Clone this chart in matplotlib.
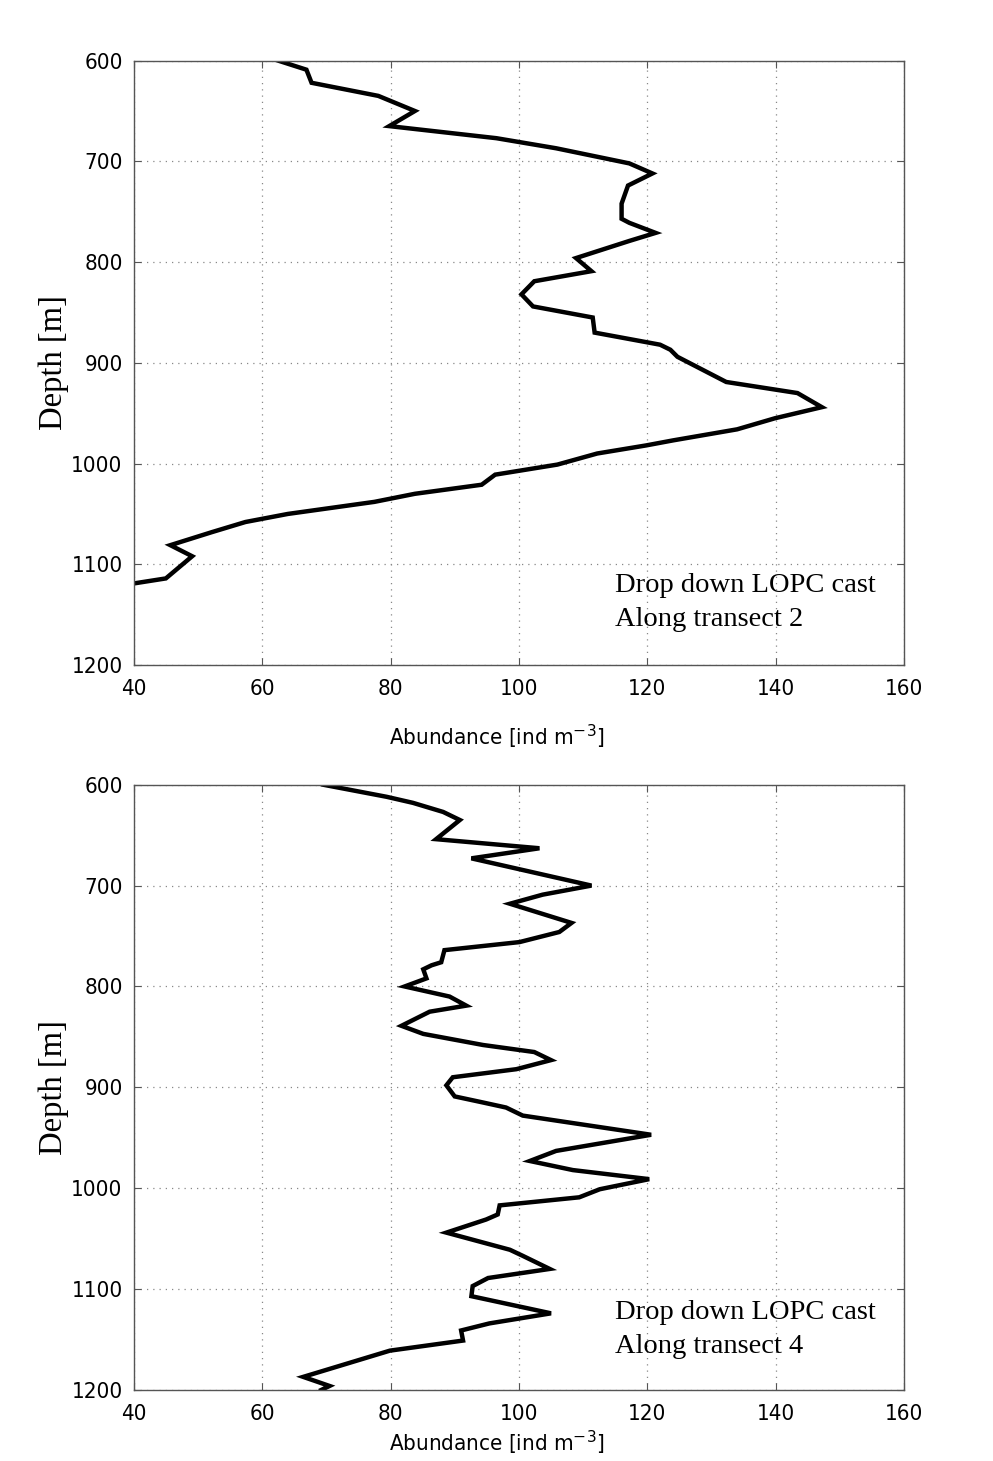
import numpy as np
import matplotlib
matplotlib.use("Agg")
import matplotlib.pyplot as plt
from matplotlib import font_manager

# transect 2 profile (abundance, depth)
abund_t2 = [62.5, 66.9, 67.7, 78.1, 83.8, 79.8, 96.5, 105.8, 117.2, 120.8, 117.0,
            116.0, 116.0, 117.2, 121.3, 117.2, 108.9, 111.3, 102.4, 100.4, 102.2,
            111.5, 111.8, 122.0, 123.6, 124.7, 132.3, 143.4, 147.2, 139.9, 134.0,
            124.0, 119.8, 112.2, 106.0, 96.3, 94.2, 83.8, 77.5, 64.0, 57.4, 52.2,
            45.7, 49.1, 45.0, 37.0]
depth_t2 = [600, 609, 622, 635, 650, 665, 677, 687, 702, 712, 724,
            742, 757, 761, 771, 779, 796, 809, 819, 832, 844,
            855, 870, 882, 887, 894, 919, 930, 944, 955, 966,
            977, 982, 990, 1001, 1011, 1021, 1030, 1038, 1050, 1058, 1068,
            1081, 1092, 1114, 1122]

# transect 4 profile
abund_t4 = [69.5, 79.4, 83.5, 88.2, 90.8, 87.1, 103.2, 92.6, 111.3, 103.7, 98.6,
            108.2, 106.3, 100.1, 88.4, 87.9, 86.4, 85.1, 85.6, 82.2, 89.2, 91.8,
            86.1, 81.7, 85.1, 94.4, 102.4, 105.0, 99.6, 89.7, 88.7, 90.0, 94.4,
            98.0, 100.6, 120.6, 105.8, 101.7, 108.4, 120.3, 112.6, 109.4, 97.0,
            96.7, 94.9, 88.7, 98.6, 100.6, 104.8, 95.2, 92.8, 92.6, 105.0, 95.4,
            91.0, 91.3, 79.9, 66.4, 70.5, 69.2]
depth_t4 = [600, 612, 618, 627, 635, 654, 663, 673, 700, 709, 718,
            737, 746, 756, 764, 776, 779, 783, 792, 800, 810, 819,
            825, 839, 847, 858, 865, 873, 882, 890, 898, 909, 915,
            920, 928, 947, 963, 973, 982, 991, 1001, 1009, 1017,
            1026, 1031, 1044, 1061, 1067, 1080, 1089, 1097, 1107, 1124, 1134,
            1141, 1151, 1161, 1187, 1196, 1200]

x_ticks = [40, 60, 80, 100, 120, 140, 160]
y_ticks = [600, 700, 800, 900, 1000, 1100, 1200]

num_font = font_manager.FontProperties(family="DejaVu Sans", stretch="condensed", size=16)
lab_font = font_manager.FontProperties(family="DejaVu Sans", stretch="condensed", size=16)
SERIF = ["Liberation Serif", "DejaVu Serif"]

fig = plt.figure(figsize=(9.93, 14.61), dpi=100)

panels = [
    (abund_t2, depth_t2, "Along transect 2", [0.1347, 0.5448, 0.7757, 0.4137], 737, 1138),
    (abund_t4, depth_t4, "Along transect 4", [0.1347, 0.0486, 0.7757, 0.4143], 1443, 1140),
]

for xs, ys, label, rect, xlab_y, txt_y in panels:
    ax = fig.add_axes(rect)
    ax.plot(xs, ys, color="black", lw=3.2, solid_joinstyle="miter")
    ax.set_xlim(40, 160)
    ax.set_ylim(1200, 600)
    ax.set_xticks(x_ticks)
    ax.set_yticks(y_ticks)
    ax.grid(True, linestyle=(0, (1, 4)), color="#888888", lw=0.9)
    ax.tick_params(direction="in", top=True, right=True, length=5,
                   color="#555555")
    ax.tick_params(axis="x", pad=10)
    ax.tick_params(axis="y", pad=8)
    for lab in ax.get_xticklabels() + ax.get_yticklabels():
        lab.set_fontproperties(num_font)
    for s in ax.spines.values():
        s.set_color("#555555")
        s.set_linewidth(1.0)
    ax.set_ylabel("Depth [m]", family=SERIF, fontsize=23.5)
    ax.yaxis.set_label_coords(-0.084, 0.5)
    ax.text(114.9, txt_y, "Drop down LOPC cast\n" + label, family=SERIF,
            fontsize=20.5, va="center", ha="left", linespacing=1.5)
    fig.text(0.5, 1 - xlab_y / 1461, "Abundance [ind m$^{-3}$]",
             fontproperties=lab_font, ha="center", va="center")

fig.savefig("out.png", dpi=100)
